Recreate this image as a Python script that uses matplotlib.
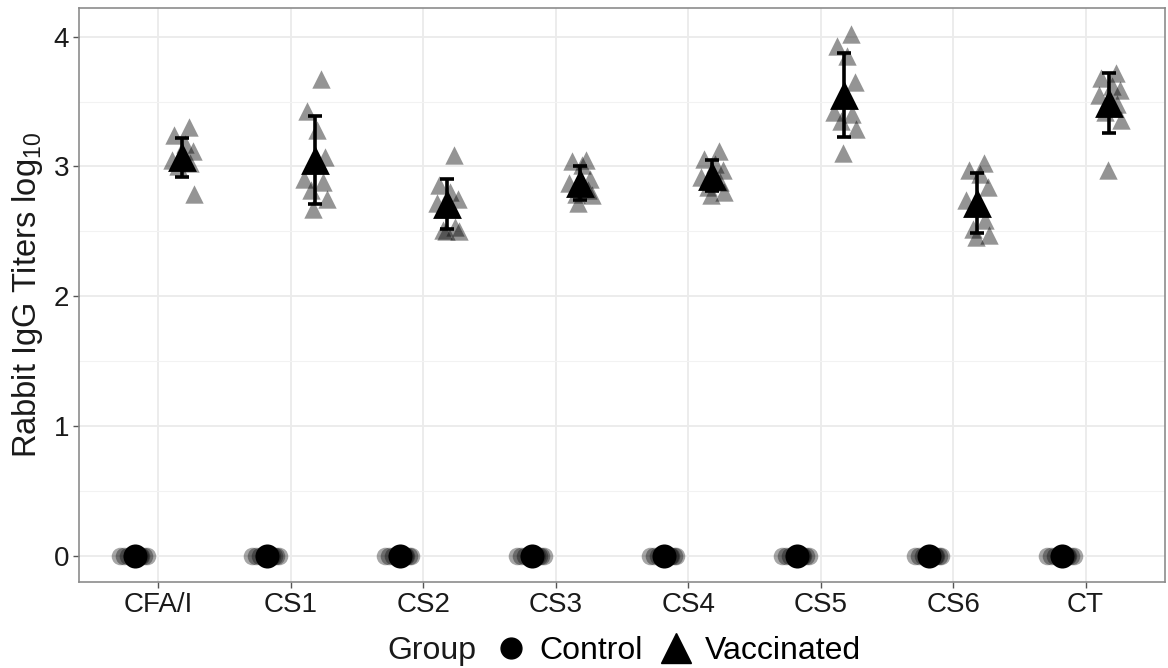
import matplotlib
matplotlib.use("Agg")
import matplotlib.pyplot as plt
from matplotlib.lines import Line2D

plt.rcParams['font.family'] = ['Liberation Sans', 'DejaVu Sans']

# antigens on the x axis
antigens = ['CFA/I', 'CS1', 'CS2', 'CS3', 'CS4', 'CS5', 'CS6', 'CT']

# individual vaccinated rabbits, log10 titers
vacc_points = {
    'CFA/I': [3.30, 3.24, 3.17, 3.12, 3.05, 3.03, 3.00, 2.79, 3.08],
    'CS1':   [3.67, 3.43, 3.28, 3.07, 2.90, 2.88, 2.82, 2.75, 2.67],
    'CS2':   [3.09, 2.86, 2.80, 2.75, 2.72, 2.53, 2.51, 2.50, 2.50],
    'CS3':   [3.05, 3.04, 3.01, 2.90, 2.87, 2.82, 2.79, 2.78, 2.72],
    'CS4':   [3.12, 3.06, 3.02, 2.97, 2.92, 2.88, 2.84, 2.80, 2.78],
    'CS5':   [4.02, 3.93, 3.85, 3.65, 3.42, 3.40, 3.35, 3.29, 3.10],
    'CS6':   [3.03, 2.97, 2.94, 2.84, 2.74, 2.59, 2.52, 2.47, 2.46],
    'CT':    [3.72, 3.68, 3.62, 3.59, 3.55, 3.48, 3.42, 3.36, 2.97],
}
# control rabbits all sit at zero
ctrl_points = [0, 0, 0, 0, 0, 0, 0, 0, 0]

# group means and SD
vacc_mean = [3.07, 3.05, 2.71, 2.87, 2.93, 3.55, 2.72, 3.49]
vacc_sd = [0.15, 0.34, 0.19, 0.13, 0.12, 0.32, 0.23, 0.23]
ctrl_mean = [0, 0, 0, 0, 0, 0, 0, 0]

# fixed horizontal jitter offsets (data units)
jit_v = [0.05, -0.06, 0.02, 0.08, -0.08, 0.06, -0.03, 0.09, -0.01]
jit_c = [-0.11, 0.09, -0.05, 0.04, -0.08, 0.07, 0.0, -0.02, 0.05]
dodge = 0.18

fig = plt.figure(figsize=(11.68, 6.68), dpi=100)
ax = fig.add_axes([79 / 1168, 1 - 582 / 668, 1086 / 1168, 574 / 668])

for i, name in enumerate(antigens):
    xc = i + 1
    xs = [xc + dodge + j for j in jit_v]
    ax.scatter(xs, vacc_points[name], marker='^', s=175, color='black',
               alpha=0.42, linewidths=0, zorder=3)
    xs = [xc - dodge + j for j in jit_c]
    ax.scatter(xs, ctrl_points, marker='o', s=160, color='black',
               alpha=0.35, linewidths=0, zorder=3)

xpos = [i + 1 for i in range(len(antigens))]
ax.errorbar([x + dodge for x in xpos], vacc_mean, yerr=vacc_sd, fmt='none',
            ecolor='black', elinewidth=2.6, capsize=5, capthick=2.6, zorder=4)
ax.scatter([x + dodge for x in xpos], vacc_mean, marker='^', s=430,
           color='black', linewidths=0, zorder=5)
ax.scatter([x - dodge for x in xpos], ctrl_mean, marker='o', s=300,
           color='black', linewidths=0, zorder=5)

ax.set_xlim(0.4, 8.6)
ax.set_ylim(-0.2, 4.22)
ax.set_xticks(xpos)
ax.set_xticklabels(antigens)
ax.set_yticks([0, 1, 2, 3, 4])
ax.set_yticks([0.5, 1.5, 2.5, 3.5], minor=True)
ax.grid(True, which='major', color='#ebebeb', linewidth=1.3, zorder=0)
ax.grid(True, which='minor', axis='y', color='#f2f2f2', linewidth=0.8, zorder=0)
ax.set_axisbelow(True)
ax.tick_params(axis='both', which='major', labelsize=20, length=4,
               color='#555555', labelcolor='#1a1a1a', width=1, pad=3)
ax.tick_params(axis='both', which='minor', length=0)
for sp in ax.spines.values():
    sp.set_color('#8c8c8c')
    sp.set_linewidth(1.2)

ax.set_ylabel(r'Rabbit IgG Titers log$\mathregular{_{10}}$', fontsize=23.5,
              color='#1a1a1a', labelpad=6)

# legend along the bottom, title to the left
fig.text(432 / 1168, 1 - 651 / 668, 'Group', fontsize=23, ha='center',
         va='center', color='#1a1a1a')
handles = [Line2D([], [], marker='o', color='black', linestyle='none', markersize=15),
           Line2D([], [], marker='^', color='black', linestyle='none', markersize=21)]
fig.legend(handles, ['Control', 'Vaccinated'], ncol=2, frameon=False,
           fontsize=23, loc='center', bbox_to_anchor=(677 / 1168, 1 - 651 / 668),
           handletextpad=0.35, columnspacing=0.5, handlelength=1.1)

fig.savefig('out.png', dpi=100)
